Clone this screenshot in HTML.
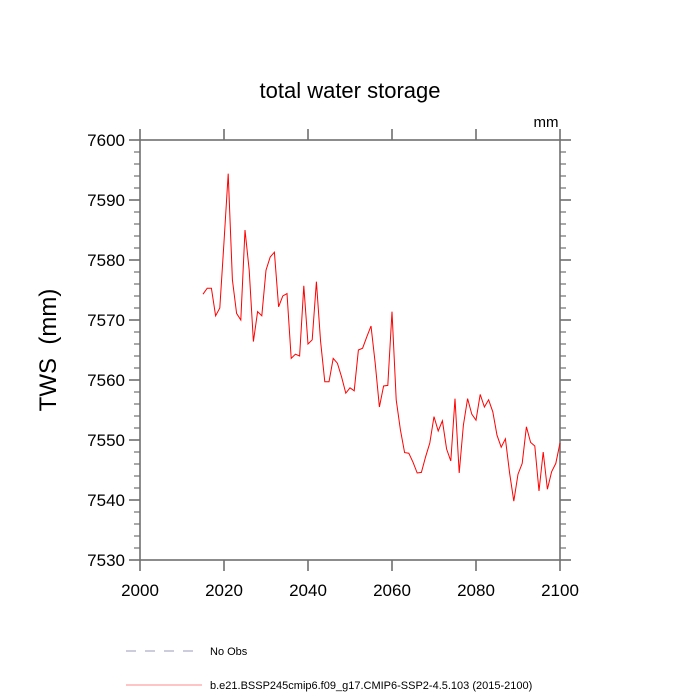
<!DOCTYPE html>
<html><head><meta charset="utf-8"><style>
body{margin:0;background:#fff;}
svg{display:block;font-family:"Liberation Sans",sans-serif;}
</style></head><body>
<svg id="c" width="700" height="700">
<text x="350" y="98" font-size="22" text-anchor="middle">total water storage</text>
<text x="546" y="127" font-size="15" text-anchor="middle">mm</text>
<text transform="translate(56,350) rotate(-90)" font-size="24" text-anchor="middle">TWS&#160;&#160;(mm)</text>
<g id="axes"></g>
<g id="series"></g>
<g>
<line x1="126" y1="651" x2="202" y2="651" stroke="#9999bb" stroke-width="1" stroke-dasharray="10,9"/>
<text x="210" y="655" font-size="11">No Obs</text>
<line x1="126" y1="685" x2="202" y2="685" stroke="#ff8888" stroke-width="1"/>
<text x="210" y="689" font-size="11">b.e21.BSSP245cmip6.f09_g17.CMIP6-SSP2-4.5.103 (2015-2100)</text>
</g>
</svg>
<script>
const startYear = 2015;
const tws = [7574.3,7575.3,7575.3,7570.7,7572,7583,7594.4,7576.7,7571.1,7570,
7585,7578.3,7566.4,7571.4,7570.7,7578.3,7580.5,7581.3,7572.2,7574,
7574.4,7563.6,7564.3,7564,7575.7,7566,7566.7,7576.4,7566.4,7559.7,
7559.7,7563.6,7562.8,7560.5,7557.8,7558.7,7558.2,7565,7565.3,7567.2,
7569,7562.8,7555.5,7559,7559.1,7571.4,7556.7,7551.7,7547.9,7547.8,
7546.3,7544.5,7544.6,7547.2,7549.5,7553.9,7551.5,7553.2,7548.5,7546.5,
7556.9,7544.5,7552.5,7556.9,7554.3,7553.3,7557.6,7555.5,7556.7,7554.7,
7550.8,7548.8,7550.2,7544.5,7539.8,7544.3,7546.1,7552.2,7549.6,7549,
7541.5,7548,7541.8,7544.7,7546.1,7549.5];
const xTicks = [2000,2020,2040,2060,2080,2100];
const yTicks = [7530,7540,7550,7560,7570,7580,7590,7600];
const X0=140,X1=560,Y0=140,Y1=560;
const xs = v => X0 + (v-2000)/(2100-2000)*(X1-X0);
const ys = v => Y1 - (v-7530)/(7600-7530)*(Y1-Y0);
const NS="http://www.w3.org/2000/svg";
const ax=document.getElementById('axes'), se=document.getElementById('series');
function mk(tag,attrs,parent){const e=document.createElementNS(NS,tag);for(const k in attrs)e.setAttribute(k,attrs[k]);parent.appendChild(e);return e;}
const col="#707070";
const frame=mk('rect',{x:X0,y:Y0,width:X1-X0,height:Y1-Y0,fill:'none',stroke:col,'stroke-width':1.6},ax);


for(let v=7530;v<=7600;v+=2){
  const y=ys(v), major=(v%10===0), L=major?11:6;
  const t1=mk('line',{x1:X0-L,y1:y,x2:X0,y2:y,stroke:col,'stroke-width':major?1.6:1.2},ax);
  
  
  const t2=mk('line',{x1:X1,y1:y,x2:X1+L,y2:y,stroke:col,'stroke-width':major?1.6:1.2},ax);
  
  
}
yTicks.forEach(v=>{
  const t=mk('text',{x:X0-15,y:ys(v)+6,'font-size':17,'text-anchor':'end'},ax);
  t.textContent=v;
  
  
});
xTicks.forEach(v=>{
  const x=xs(v);
  const a=mk('line',{x1:x,y1:Y1,x2:x,y2:Y1+11,stroke:col,'stroke-width':1.6},ax);
  
  
  const b=mk('line',{x1:x,y1:Y0-11,x2:x,y2:Y0,stroke:col,'stroke-width':1.6},ax);
  
  
  const t=mk('text',{x:x,y:Y1+36,'font-size':17,'text-anchor':'middle'},ax);
  t.textContent=v;
  
  
});
const pts=tws.map((v,i)=>xs(startYear+i).toFixed(1)+','+ys(v).toFixed(1)).join(' ');
const pl=mk('polyline',{points:pts,fill:'none',stroke:'#ff0000','stroke-width':1},se);


</script>
</body></html>
